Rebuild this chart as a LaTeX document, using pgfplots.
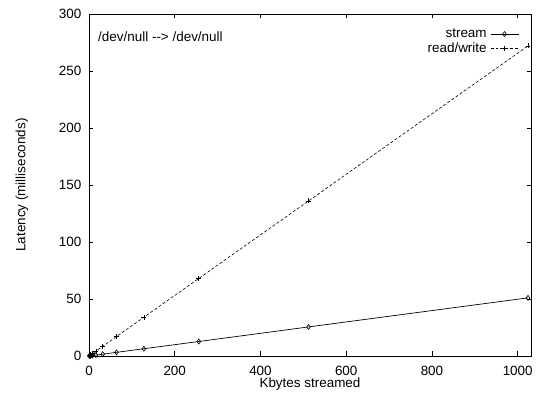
\documentclass[border=0pt]{standalone}
\usepackage{pgfplots}
\pgfplotsset{compat=1.18}
\usepackage{fontspec}
\setmainfont{Liberation Sans}
\begin{document}
\fontsize{13.5}{16}\selectfont
\begin{tikzpicture}
\begin{axis}[
  scale only axis,
  width=442bp, height=342bp,
  xmin=0, xmax=1031, ymin=0, ymax=300,
  xtick={0,200,400,600,800,1000},
  ytick={0,50,100,150,200,250,300},
  tick align=inside,
  major tick length=4.5bp,
  tick style={black, line width=0.6pt},
  axis line style={line width=0.8pt},
  /pgf/number format/assume math mode=true,
  /pgf/number format/1000 sep={},
  xticklabel style={anchor=base, yshift=-19bp},
  yticklabel style={xshift=-3bp},
  xlabel={Kbytes streamed},
  ylabel={Latency (milliseconds)},
  xlabel style={at={(axis description cs:0.5,-0.0819)}, anchor=center},
  ylabel style={at={(axis description cs:-0.1516,0.5)}, anchor=center},
  legend style={draw=none, fill=none, at={(0.973,0.962)}, anchor=north east, inner sep=0pt,
    font=\fontsize{13.5}{16}\selectfont, row sep=0bp, column sep=2bp, nodes={inner sep=1.5bp}},
  legend cell align=right,
  legend plot pos=right,
  legend image code/.code={\draw[mark repeat=2,mark phase=2,#1] plot coordinates {(0bp,0bp)(14bp,0bp)(28bp,0bp)};},
]
\coordinate (ll) at (rel axis cs:0,0);
\coordinate (ur) at (rel axis cs:1,1);
\addplot[black, line width=0.7pt, mark=diamond, mark size=2.5pt, mark options={solid, line width=0.6pt}] coordinates {
(1,0.05) (2,0.1) (4,0.2) (8,0.4) (16,0.8) (32,1.6) (64,3.2) (128,6.4) (256,12.7) (512,25.5) (1024,51)};
\addlegendentry{stream}
\addplot[black, line width=0.6pt, densely dashed, mark=+, mark size=2.5pt, mark options={solid, line width=0.6pt}] coordinates {
(1,0.27) (2,0.53) (4,1.06) (8,2.1) (16,4.25) (32,8.5) (64,17) (128,34) (256,68) (512,136) (1024,272)};
\addlegendentry{read/write}
\node[anchor=west, inner sep=0pt] at (rel axis cs:0.0204,0.933) {/dev/null -{}-> /dev/null};
\end{axis}
\path ([xshift=-89bp,yshift=-39bp]ll) rectangle ([xshift=7bp,yshift=14bp]ur);
\end{tikzpicture}
\end{document}
